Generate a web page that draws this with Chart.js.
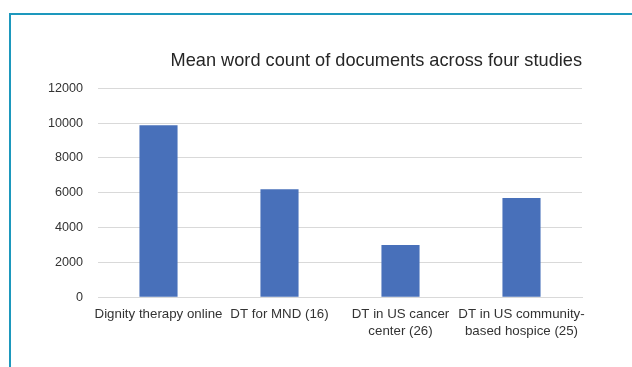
<!DOCTYPE html>
<html>
<head>
<meta charset="utf-8">
<script src="https://cdn.jsdelivr.net/npm/chart.js@4/dist/chart.umd.min.js"></script>
<style>
  html, body { margin: 0; padding: 0; background: #ffffff; }
  #wrap { position: relative; width: 632px; height: 367px; }
  #frame { position: absolute; left: 9px; top: 13px; right: -10px; bottom: -10px;
           border-left: 2px solid #1d98bd; border-top: 2px solid #1d98bd; pointer-events: none; }
  canvas { display: block; }
</style>
</head>
<body>
<div id="wrap">
  <canvas id="c" width="632" height="367"></canvas>
  <div id="frame"></div>
</div>
<script>
const categories = [
  "Dignity therapy online",
  "DT for MND (16)",
  ["DT in US cancer", "center (26)"],
  ["DT in US community-", "based hospice (25)"]
];
const meanWordCount = [9880, 6200, 3000, 5700];
const yTicks = [0, 2000, 4000, 6000, 8000, 10000, 12000];
const chartTitle = "Mean word count of documents across four studies";

const fontFamily = "'Liberation Sans', Arial, Helvetica, sans-serif";

new Chart(document.getElementById('c'), {
  type: 'bar',
  data: {
    labels: categories,
    datasets: [{
      label: 'Mean word count',
      data: meanWordCount,
      backgroundColor: '#4870ba',
      borderWidth: 0,
      barPercentage: 0.315,
      categoryPercentage: 1
    }]
  },
  options: {
    responsive: false,
    animation: false,
    devicePixelRatio: 1,
    layout: { padding: { left: 0, right: 50, top: 0, bottom: 0 } },
    plugins: {
      legend: { display: false },
      tooltip: { enabled: false },
      title: {
        display: true,
        text: chartTitle,
        align: 'end',
        color: '#262626',
        font: { family: fontFamily, size: 18.2, weight: 'normal' },
        padding: { top: 50, bottom: 16.4 }
      }
    },
    scales: {
      x: {
        grid: { display: false, drawTicks: false },
        border: { display: true, color: '#d9d9d9', width: 1 },
        ticks: {
          color: '#333333',
          font: { family: fontFamily, size: 13.3, lineHeight: 1.25 },
          padding: 9,
          maxRotation: 0,
          autoSkip: false
        },
        afterFit: (s) => { s.height = 69.7; }
      },
      y: {
        min: 0,
        max: 12000,
        afterBuildTicks: (s) => { s.ticks = yTicks.map(v => ({ value: v })); },
        grid: { color: '#d9d9d9', lineWidth: 1, drawTicks: false },
        border: { display: false },
        ticks: {
          color: '#333333',
          font: { family: fontFamily, size: 12.6 },
          padding: 15,
          callback: (v) => String(v)
        },
        afterFit: (s) => { s.width = 98; }
      }
    }
  }
});
</script>
</body>
</html>
